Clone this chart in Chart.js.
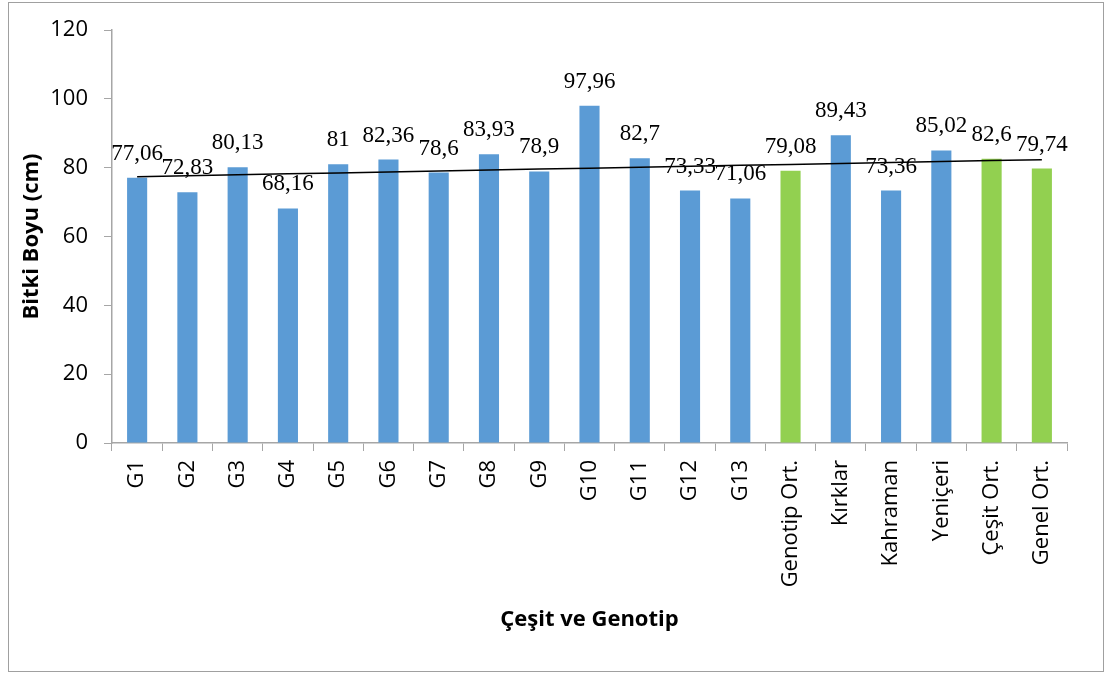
<!DOCTYPE html>
<html>
<head>
<meta charset="utf-8">
<script src="https://cdn.jsdelivr.net/npm/chart.js@4/dist/chart.umd.min.js"></script>
<style>
  html, body { margin: 0; padding: 0; background: #fff; }
  #wrap { width: 1105px; height: 675px; position: relative; }
</style>
</head>
<body>
<div id="wrap"><canvas id="barChart" width="1105" height="675"></canvas></div>
<script>
// plant height per genotype / variety
const categories = ['G1', 'G2', 'G3', 'G4', 'G5', 'G6', 'G7', 'G8', 'G9', 'G10', 'G11', 'G12', 'G13',
  'Genotip Ort.', 'Kırklar', 'Kahraman', 'Yeniçeri', 'Çeşit Ort.', 'Genel Ort.'];
const heights = [77.06, 72.83, 80.13, 68.16, 81, 82.36, 78.6, 83.93, 78.9, 97.96, 82.7, 73.33, 71.06,
  79.08, 89.43, 73.36, 85.02, 82.6, 79.74];
const meanCategories = ['Genotip Ort.', 'Çeşit Ort.', 'Genel Ort.'];
const yTicks = [0, 20, 40, 60, 80, 100, 120];

const BLUE = '#5b9bd5';
const GREEN = '#92d050';
const AXIS = '#a6a6a6';

// linear trendline (least squares over category index), like Excel's trendline
function linearTrend(vals) {
  const n = vals.length;
  const mx = (n + 1) / 2;
  const my = vals.reduce((a, b) => a + b, 0) / n;
  let sxy = 0, sxx = 0;
  vals.forEach((v, i) => { const dx = i + 1 - mx; sxy += dx * (v - my); sxx += dx * dx; });
  const slope = sxy / sxx;
  return vals.map((_, i) => my + slope * (i + 1 - mx));
}

const frame = {
  id: 'frame',
  beforeDraw(chart) {
    const c = chart.ctx;
    c.save();
    c.fillStyle = '#fff';
    c.fillRect(0, 0, chart.width, chart.height);
    c.strokeStyle = '#a0a0a0';
    c.lineWidth = 1;
    c.strokeRect(8.5, 2.5, 1095, 669);
    c.restore();
  }
};

// value labels above the bars (dataset 1 is the bar series)
const valueLabels = {
  id: 'valueLabels',
  afterDraw(chart) {
    const meta = chart.getDatasetMeta(1);
    const c = chart.ctx;
    c.save();
    c.font = '23px "Liberation Serif", "Times New Roman", serif';
    c.fillStyle = '#000';
    c.textAlign = 'center';
    c.textBaseline = 'middle';
    meta.data.forEach((bar, i) => {
      c.fillText(String(heights[i]).replace('.', ','), bar.x, bar.y - 24);
    });
    c.restore();
  }
};

Chart.defaults.font.family = '"Open Sans", "Noto Sans", sans-serif';
Chart.defaults.color = '#000';

new Chart(document.getElementById('barChart'), {
  type: 'bar',
  data: {
    labels: categories,
    datasets: [{
      type: 'line',
      data: linearTrend(heights),
      borderColor: '#000',
      borderWidth: 1.5,
      pointRadius: 0,
      fill: false,
      order: 0
    }, {
      type: 'bar',
      data: heights,
      backgroundColor: categories.map(c => meanCategories.includes(c) ? GREEN : BLUE),
      barPercentage: 0.4,
      categoryPercentage: 1,
      order: 1
    }]
  },
  options: {
    responsive: false,
    animation: false,
    layout: { padding: { top: 30, right: 38, bottom: 0, left: 0 } },
    plugins: { legend: { display: false }, tooltip: { enabled: false } },
    scales: {
      x: {
        grid: { display: true, drawOnChartArea: false, offset: true, tickLength: 8, color: AXIS },
        border: { display: true, color: AXIS, width: 1.5 },
        ticks: { minRotation: 90, maxRotation: 90, padding: 9, font: { size: 22 }, autoSkip: false },
        title: { display: true, text: 'Çeşit ve Genotip', font: { size: 22, weight: 'bold' }, padding: { top: 0, bottom: 42 } },
        afterFit(scale) { scale.height = 232; }
      },
      y: {
        min: 0,
        max: 120,
        afterBuildTicks(scale) { scale.ticks = yTicks.map(v => ({ value: v })); },
        grid: { display: true, drawOnChartArea: false, tickLength: 8, color: AXIS },
        border: { display: true, color: AXIS, width: 1.5 },
        ticks: { padding: 16, font: { size: 22 } },
        title: { display: true, text: 'Bitki Boyu (cm)', font: { size: 22, weight: 'bold' }, padding: { top: 19, bottom: 0 } },
        afterFit(scale) { scale.width = 112; }
      }
    }
  },
  plugins: [frame, valueLabels]
});
</script>
</body>
</html>
